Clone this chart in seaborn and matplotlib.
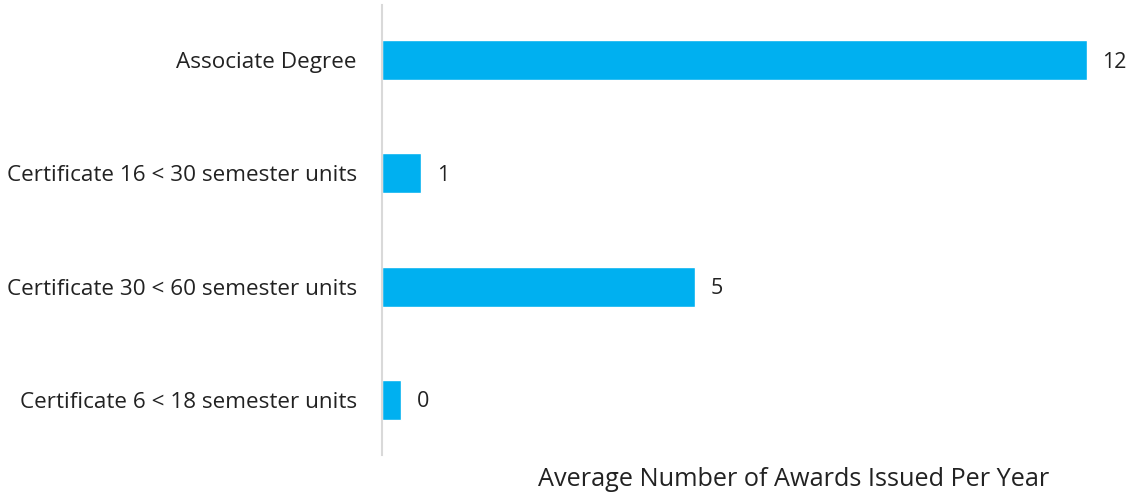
import matplotlib
matplotlib.use("Agg")
import matplotlib.pyplot as plt
import seaborn as sns
import pandas as pd

categories = ["Associate Degree", "Certificate 16 < 30 semester units",
              "Certificate 30 < 60 semester units", "Certificate 6 < 18 semester units"]
values = [12.0, 0.67, 5.33, 0.33]
value_labels = ["12", "1", "5", "0"]
x_title = "Average Number of Awards Issued Per Year"

df = pd.DataFrame({"cat": categories, "val": values})

sns.set_theme(style="white")
plt.rcParams['font.family'] = ['Open Sans', 'DejaVu Sans']

W, H = 1132, 493
fig = plt.figure(figsize=(W / 100, H / 100), dpi=100)
ax_left, ax_right = 382, 1116
ax_top, ax_bottom = 5, 455
ax = fig.add_axes([ax_left / W, 1 - ax_bottom / H, (ax_right - ax_left) / W, (ax_bottom - ax_top) / H])

sns.barplot(data=df, y="cat", x="val", color="#00B0F0", saturation=1, width=0.354, ax=ax, orient="h")
ax.set_xlim(0, 12.5)
ax.set_ylim(3.49, -0.49)

for i, (v, lab) in enumerate(zip(values, value_labels)):
    ax.text(v + 0.27, i + 0.02, lab, va="center", ha="left", fontsize=15.5, color="#222222")

for s in ["top", "right", "bottom"]:
    ax.spines[s].set_visible(False)
ax.spines["left"].set_color("#d9d9d9")
ax.spines["left"].set_linewidth(1.5)
ax.set_xticks([])
ax.set_ylabel("")
ax.set_xlabel("")
ax.tick_params(axis="y", length=0, pad=18, labelsize=16.2, labelcolor="#222222")

fig.text(794 / W, 1 - 479 / H, x_title, ha="center", va="center", fontsize=18.2, color="#222222")

fig.savefig("out.png", dpi=100, facecolor="white")
